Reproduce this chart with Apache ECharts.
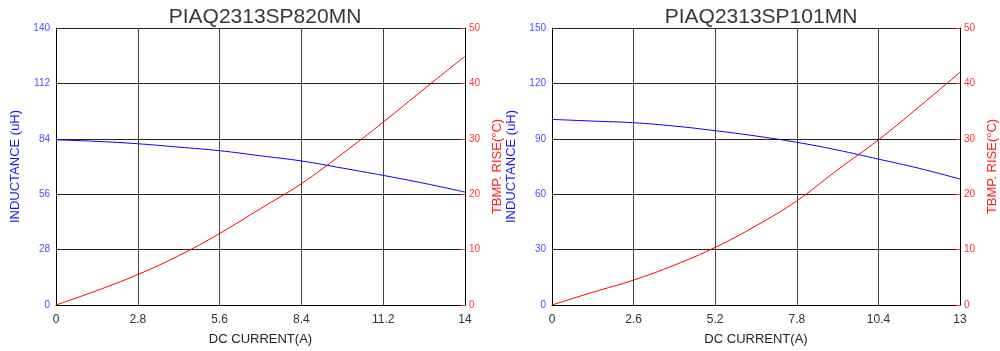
<!DOCTYPE html>
<html>
<head>
<meta charset="utf-8">
<script src="https://cdn.jsdelivr.net/npm/echarts@6/dist/echarts.min.js"></script>
<style>
html,body{margin:0;padding:0;background:#fff;}
#c{width:1000px;height:351px;}
</style>
</head>
<body>
<div id="c"></div>
<script>
const titles = ['PIAQ2313SP820MN', 'PIAQ2313SP101MN'];
const currentA = [0, 1.4, 2.8, 4.2, 5.6, 7.0, 8.4, 9.8, 11.2, 12.6, 14];
const inductanceA = [83.5, 82.7, 81.5, 79.8, 78.0, 75.4, 72.8, 69.2, 65.5, 61.5, 57.1];
const tempA = [0, 2.6, 5.5, 8.9, 12.9, 17.4, 21.9, 27.3, 33.0, 39.0, 44.9];
const currentB = [0, 1.3, 2.6, 3.9, 5.2, 6.5, 7.8, 9.1, 10.4, 11.7, 13];
const inductanceB = [100.5, 99.6, 98.7, 96.9, 94.4, 91.5, 88.1, 83.9, 79.0, 74.0, 68.2];
const tempB = [0, 2.3, 4.5, 7.2, 10.4, 14.3, 18.8, 24.4, 29.8, 35.8, 42.0];
const xMax = [14, 13];
const xStep = [2.8, 2.6];
const indMax = [140, 150];
const indStep = [28, 30];
const tempMax = 50;
const tempStep = 10;
const xName = 'DC CURRENT(A)';
const indName = 'INDUCTANCE (uH)';
const tempName = 'TBMP. RISE(°C)';

const FONT = '"Liberation Sans", Arial, sans-serif';
const zip = (xs, ys) => xs.map((x, i) => [x, ys[i]]);

const grids = [
  {left: 56, right: 535, top: 28, bottom: 46},
  {left: 552, right: 39, top: 28, bottom: 46}
];
const centers = [260, 756];

const option = {
  backgroundColor: '#fff',
  animation: false,
  title: titles.map((t, i) => ({
    text: t, left: centers[i], top: 2, textAlign: 'center',
    textStyle: {fontFamily: FONT, fontSize: 21, fontWeight: 'normal', color: '#383838'}
  })),
  grid: grids,
  xAxis: [0, 1].map(i => ({
    type: 'value', gridIndex: i, min: 0, max: xMax[i], interval: xStep[i],
    name: xName, nameLocation: 'middle', nameGap: 28,
    nameTextStyle: {fontFamily: FONT, fontSize: 13, color: '#222'},
    axisLine: {show: true, lineStyle: {color: '#000', width: 1}},
    axisTick: {show: false},
    axisLabel: {fontFamily: FONT, fontSize: 12, color: '#333', margin: 9},
    splitLine: {show: true, lineStyle: {color: '#444', width: 1}}
  })),
  yAxis: [
    ...[0, 1].map(i => ({
      type: 'value', gridIndex: i, position: 'left', min: 0, max: indMax[i], interval: indStep[i],
      name: indName, nameLocation: 'middle', nameGap: 34,
      nameTextStyle: {fontFamily: FONT, fontSize: 13, color: '#1a1aff'},
      axisLine: {show: true, lineStyle: {color: '#000', width: 1}},
      axisTick: {show: false},
      axisLabel: {fontFamily: FONT, fontSize: 10, color: '#4d4dff', margin: 6},
      splitLine: {show: true, lineStyle: {color: '#222', width: 1}}
    })),
    ...[0, 1].map(i => ({
      type: 'value', gridIndex: i, position: 'right', min: 0, max: tempMax, interval: tempStep,
      name: tempName, nameLocation: 'middle', nameGap: 26,
      nameTextStyle: {fontFamily: FONT, fontSize: 13, color: '#ff2020'},
      axisLine: {show: true, lineStyle: {color: '#000', width: 1}},
      axisTick: {show: true, inside: true, length: 4, lineStyle: {color: '#ff3333', width: 1}},
      axisLabel: {fontFamily: FONT, fontSize: 10, color: '#ff3333', margin: 4},
      splitLine: {show: false}
    }))
  ],
  series: [
    {type: 'line', xAxisIndex: 0, yAxisIndex: 0, data: zip(currentA, inductanceA), smooth: 0.4, showSymbol: false, lineStyle: {color: '#0000ff', width: 1}},
    {type: 'line', xAxisIndex: 0, yAxisIndex: 2, data: zip(currentA, tempA), smooth: 0.4, showSymbol: false, lineStyle: {color: '#ff0000', width: 1}},
    {type: 'line', xAxisIndex: 1, yAxisIndex: 1, data: zip(currentB, inductanceB), smooth: 0.4, showSymbol: false, lineStyle: {color: '#0000ff', width: 1}},
    {type: 'line', xAxisIndex: 1, yAxisIndex: 3, data: zip(currentB, tempB), smooth: 0.4, showSymbol: false, lineStyle: {color: '#ff0000', width: 1}}
  ]
};
const chart = echarts.init(document.getElementById('c'), null, {renderer: 'canvas'});
chart.setOption(option);
</script>
</body>
</html>
